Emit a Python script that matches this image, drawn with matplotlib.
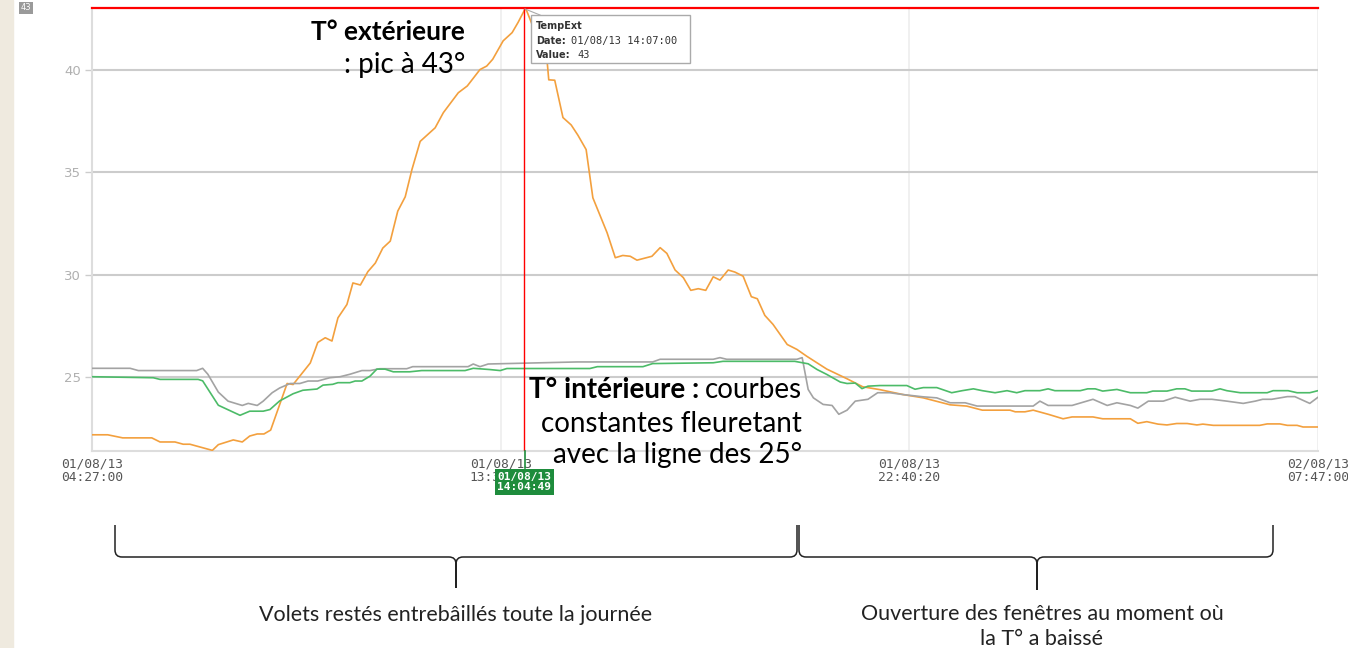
import numpy as np
import pandas as pd
import matplotlib
matplotlib.use("Agg")
import matplotlib.pyplot as plt
import matplotlib.dates as mdates
from matplotlib.path import Path
from matplotlib.patches import PathPatch, Rectangle

# --- data (minutes after 01/08/13 04:27:00, degrees C) ---
start = pd.Timestamp("2013-08-01 04:27:00")
end = pd.Timestamp("2013-08-02 07:47:00")

ext_min = [0, 21, 41, 80, 91, 111, 122, 131, 161, 169, 189, 201, 211, 221, 230, 239,
           261, 269, 292, 302, 312, 321, 329, 341, 349, 359, 369, 379, 389, 399, 409,
           419, 428, 439, 459, 470, 490, 502, 519, 528, 536, 550, 562, 570, 580,
           609, 611, 619, 630, 641, 650, 661, 670, 689, 700, 710, 720, 729, 749, 760,
           769, 780, 791, 801, 811, 821, 831, 840, 851, 860, 871, 882, 890, 900, 911,
           930, 943, 956, 983, 1010, 1031, 1054, 1085, 1112, 1148, 1170, 1191, 1228,
           1235, 1248, 1259, 1279, 1299, 1311, 1339, 1352, 1389, 1399, 1411, 1426,
           1438, 1451, 1465, 1478, 1486, 1500, 1562, 1572, 1589, 1599, 1612, 1620, 1640]
ext_val = [22.2, 22.2, 22.05, 22.05, 21.85, 21.85, 21.74, 21.74, 21.44, 21.72, 21.95,
           21.85, 22.14, 22.24, 22.24, 22.43, 24.7, 24.65, 25.7, 26.7, 26.93, 26.77,
           27.9, 28.55, 29.6, 29.5, 30.15, 30.57, 31.3, 31.64, 33.1, 33.8, 35.13, 36.5,
           37.16, 37.9, 38.87, 39.2, 40.0, 40.17, 40.5, 41.4, 41.8, 42.3, 43.0,
           40.33, 39.5, 39.48, 37.66, 37.3, 36.8, 36.1, 33.75, 32.05, 30.83, 30.94,
           30.9, 30.71, 30.9, 31.32, 31.04, 30.23, 29.86, 29.24, 29.32, 29.24, 29.9,
           29.74, 30.23, 30.13, 29.93, 28.93, 28.83, 28.02, 27.58, 26.6, 26.36, 26.03,
           25.4, 24.93, 24.54, 24.4, 24.16, 24.0, 23.66, 23.6, 23.4, 23.4, 23.32,
           23.32, 23.4, 23.2, 22.98, 23.07, 23.07, 22.98, 22.98, 22.76, 22.84, 22.72,
           22.68, 22.75, 22.75, 22.68, 22.72, 22.66, 22.66, 22.73, 22.73, 22.66,
           22.66, 22.58, 22.58]

green_min = [0, 82, 91, 142, 148, 169, 198, 211, 229, 238, 251, 269, 282, 301, 309, 322,
             329, 345, 352, 361, 372, 381, 392, 403, 425, 441, 499, 510, 532, 546, 555,
             666, 676, 737, 750, 831, 844, 940, 958, 970, 983, 1001, 1010, 1021, 1030,
             1038, 1054, 1090, 1101, 1112, 1130, 1150, 1164, 1179, 1191, 1208, 1224,
             1237, 1248, 1268, 1279, 1288, 1322, 1332, 1342, 1352, 1371, 1389, 1411,
             1419, 1438, 1451, 1462, 1471, 1498, 1509, 1518, 1536, 1572, 1580, 1600,
             1612, 1629, 1640]
green_val = [25.03, 24.98, 24.9, 24.9, 24.83, 23.64, 23.15, 23.35, 23.35, 23.43, 23.85,
             24.2, 24.37, 24.43, 24.62, 24.66, 24.74, 24.74, 24.82, 24.82, 25.06, 25.4,
             25.4, 25.27, 25.27, 25.33, 25.33, 25.44, 25.38, 25.33, 25.43, 25.43, 25.52,
             25.52, 25.67, 25.71, 25.78, 25.78, 25.66, 25.38, 25.14, 24.77, 24.7, 24.72,
             24.45, 24.57, 24.6, 24.6, 24.42, 24.5, 24.5, 24.25, 24.35, 24.44, 24.35,
             24.25, 24.35, 24.25, 24.35, 24.35, 24.44, 24.35, 24.35, 24.44, 24.44,
             24.33, 24.41, 24.25, 24.25, 24.33, 24.33, 24.44, 24.44, 24.33, 24.33,
             24.44, 24.35, 24.25, 24.25, 24.35, 24.35, 24.25, 24.25, 24.35]

gray_min = [0, 51, 62, 140, 148, 155, 169, 182, 201, 209, 221, 229, 241, 251, 265, 278,
            289, 302, 318, 332, 345, 361, 372, 385, 421, 429, 503, 510, 519, 530, 649,
            750, 760, 831, 840, 849, 943, 950, 958, 965, 978, 990, 999, 1010, 1021, 1038,
            1051, 1067, 1085, 1112, 1130, 1148, 1168, 1184, 1259, 1268, 1279, 1311, 1339,
            1358, 1371, 1389, 1399, 1413, 1433, 1449, 1469, 1482, 1498, 1518, 1540, 1556,
            1566, 1578, 1599, 1609, 1629, 1640]
gray_val = [25.44, 25.44, 25.33, 25.33, 25.44, 25.15, 24.28, 23.84, 23.63, 23.73, 23.63,
            23.84, 24.25, 24.48, 24.7, 24.7, 24.82, 24.82, 24.98, 25.03, 25.15, 25.33,
            25.33, 25.42, 25.42, 25.52, 25.52, 25.65, 25.52, 25.65, 25.75, 25.75, 25.88,
            25.88, 25.96, 25.88, 25.88, 25.96, 24.41, 24.0, 23.68, 23.63, 23.2, 23.4,
            23.84, 23.93, 24.25, 24.25, 24.16, 24.05, 24.0, 23.76, 23.76, 23.6, 23.6,
            23.84, 23.63, 23.63, 23.93, 23.63, 23.76, 23.63, 23.5, 23.84, 23.84, 24.03,
            23.84, 23.93, 23.93, 23.84, 23.73, 23.84, 23.93, 23.93, 24.06, 24.06,
            23.73, 24.03]

y_ticks = [25, 30, 35, 40]
peak_value = 43
peak_time = pd.Timestamp("2013-08-01 14:07:00")
cursor_time = pd.Timestamp("2013-08-01 14:04:49")


def to_time(minutes):
    return start + pd.to_timedelta(minutes, unit="m")


W, H = 1348, 648
fig = plt.figure(figsize=(W / 100, H / 100), dpi=100)
fig.patch.set_facecolor("white")

ax = fig.add_axes([92 / W, 1 - 451 / H, 1226 / W, 443 / H])
ax.plot(to_time(ext_min), ext_val, color="#f3a03e", lw=1.2, zorder=3)
ax.plot(to_time(gray_min), gray_val, color="#a3a3a3", lw=1.2, zorder=3)
ax.plot(to_time(green_min), green_val, color="#4cbb68", lw=1.2, zorder=3)

ax.set_xlim(start, end)
ax.set_ylim(21.41, 43.0)
ax.set_yticks(y_ticks)
ax.yaxis.grid(True, color="#cccccc", lw=1.5)
xt = [start + (end - start) * k / 3 for k in range(4)]
ax.set_xticks(xt)
ax.xaxis.set_major_formatter(mdates.DateFormatter("%d/%m/%y\n%H:%M:%S"))
ax.xaxis.grid(True, color="#eeeeee", lw=1.2)
ax.set_axisbelow(True)
for s in ["top", "right"]:
    ax.spines[s].set_visible(False)
for s in ["left", "bottom"]:
    ax.spines[s].set_color("#dddddd")
    ax.spines[s].set_linewidth(1.5)
ax.tick_params(axis="y", colors="#cccccc", labelcolor="#b0b0b0", length=5, width=1,
               labelsize=9.5, pad=3)
ax.tick_params(axis="x", length=0, pad=5)
for lab in ax.get_xticklabels():
    lab.set_fontfamily("DejaVu Sans Mono")
    lab.set_fontsize(9.3)
    lab.set_color("#555555")
    lab.set_linespacing(1.0)

# cursor lines
ax.axhline(peak_value, color="#ff0000", lw=1.6, clip_on=False, zorder=4)
ax.axvline(cursor_time, color="#ff0000", lw=1.0, zorder=4)

# overlay in pixel coordinates for annotations
ov = fig.add_axes([0, 0, 1, 1], zorder=10)
ov.set_xlim(0, W)
ov.set_ylim(H, 0)
ov.axis("off")
ov.patch.set_alpha(0)

ov.add_patch(Rectangle((0, 0), 13, H, color="#efeadf", zorder=0))
ov.text(26, 8, "43", fontsize=6, color="white", ha="center", va="center",
        bbox=dict(boxstyle="square,pad=0.2", fc="#9a9a9a", ec="none"))

# tooltip
ov.plot([525, 540], [9, 15], color="#aaaaaa", lw=0.8)
ov.add_patch(Rectangle((531, 15), 159, 48, fc="white", ec="#aaaaaa", lw=1))
ov.text(536, 29, "TempExt", fontsize=7, fontweight="bold", color="#333333", va="baseline")
ov.text(536, 44, "Date:", fontsize=7, fontweight="bold", color="#333333", va="baseline")
ov.text(571, 44, "01/08/13 14:07:00", fontsize=7.5, family="DejaVu Sans Mono",
        color="#333333", va="baseline")
ov.text(536, 58, "Value:", fontsize=7, fontweight="bold", color="#333333", va="baseline")
ov.text(577, 58, "43", fontsize=7.5, family="DejaVu Sans Mono", color="#333333",
        va="baseline")

# cursor label on the x axis
ov.plot([525, 525], [451, 468], color="#1e8c3c", lw=1.2)
ov.text(524.5, 482, "01/08/13\n14:04:49", fontsize=8, family="DejaVu Sans Mono",
        fontweight="bold", color="white", ha="center", va="center", linespacing=1.1,
        bbox=dict(boxstyle="square,pad=0.2", fc="#1e8c3c", ec="none"))

# annotations
font = "Lato"
ov.text(465, 40, "T° extérieure", fontsize=19, fontweight="bold", family=font,
        ha="right", va="baseline", color="black")
ov.text(465, 73, ": pic à 43°", fontsize=20, family=font, ha="right", va="baseline",
        color="black")

fs_in = 20
t_c = ov.text(802, 398, "courbes", fontsize=fs_in, family=font, ha="right",
              va="baseline", color="black")
fig.canvas.draw()
left_px = t_c.get_window_extent(fig.canvas.get_renderer()).x0
ov.text(left_px - 6, 398, "T° intérieure :", fontsize=fs_in, fontweight="bold",
        family=font, ha="right", va="baseline", color="black")
ov.text(802, 432, "constantes fleuretant", fontsize=fs_in, family=font, ha="right",
        va="baseline", color="black")
ov.text(802, 463, "avec la ligne des 25°", fontsize=fs_in, family=font, ha="right",
        va="baseline", color="black")


def brace(x0, x1, xm, ytop, yh, ytip, r=7):
    verts = [(x0, ytop), (x0, yh - r), (x0, yh), (x0 + r, yh), (xm - r, yh),
             (xm, yh), (xm, yh + r), (xm, ytip),
             (xm, yh + r), (xm, yh), (xm + r, yh), (x1 - r, yh), (x1, yh), (x1, yh - r),
             (x1, ytop)]
    codes = [Path.MOVETO, Path.LINETO, Path.CURVE3, Path.CURVE3, Path.LINETO,
             Path.CURVE3, Path.CURVE3, Path.LINETO,
             Path.LINETO, Path.CURVE3, Path.CURVE3, Path.LINETO, Path.CURVE3,
             Path.CURVE3, Path.LINETO]
    ov.add_patch(PathPatch(Path(verts, codes), fill=False, ec="#222222", lw=1.1))


brace(115, 797, 456, 525, 557, 588)
brace(799, 1273, 1037, 525, 557, 590)

ov.text(456, 621, "Volets restés entrebâillés toute la journée", fontsize=15.5,
        family=font, ha="center", va="baseline", color="#222222")
ov.text(1042, 620, "Ouverture des fenêtres au moment où", fontsize=15.5, family=font,
        ha="center", va="baseline", color="#222222")
ov.text(1042, 645, "la T° a baissé", fontsize=15.5, family=font,
        ha="center", va="baseline", color="#222222")

fig.savefig("out.png", dpi=100)
